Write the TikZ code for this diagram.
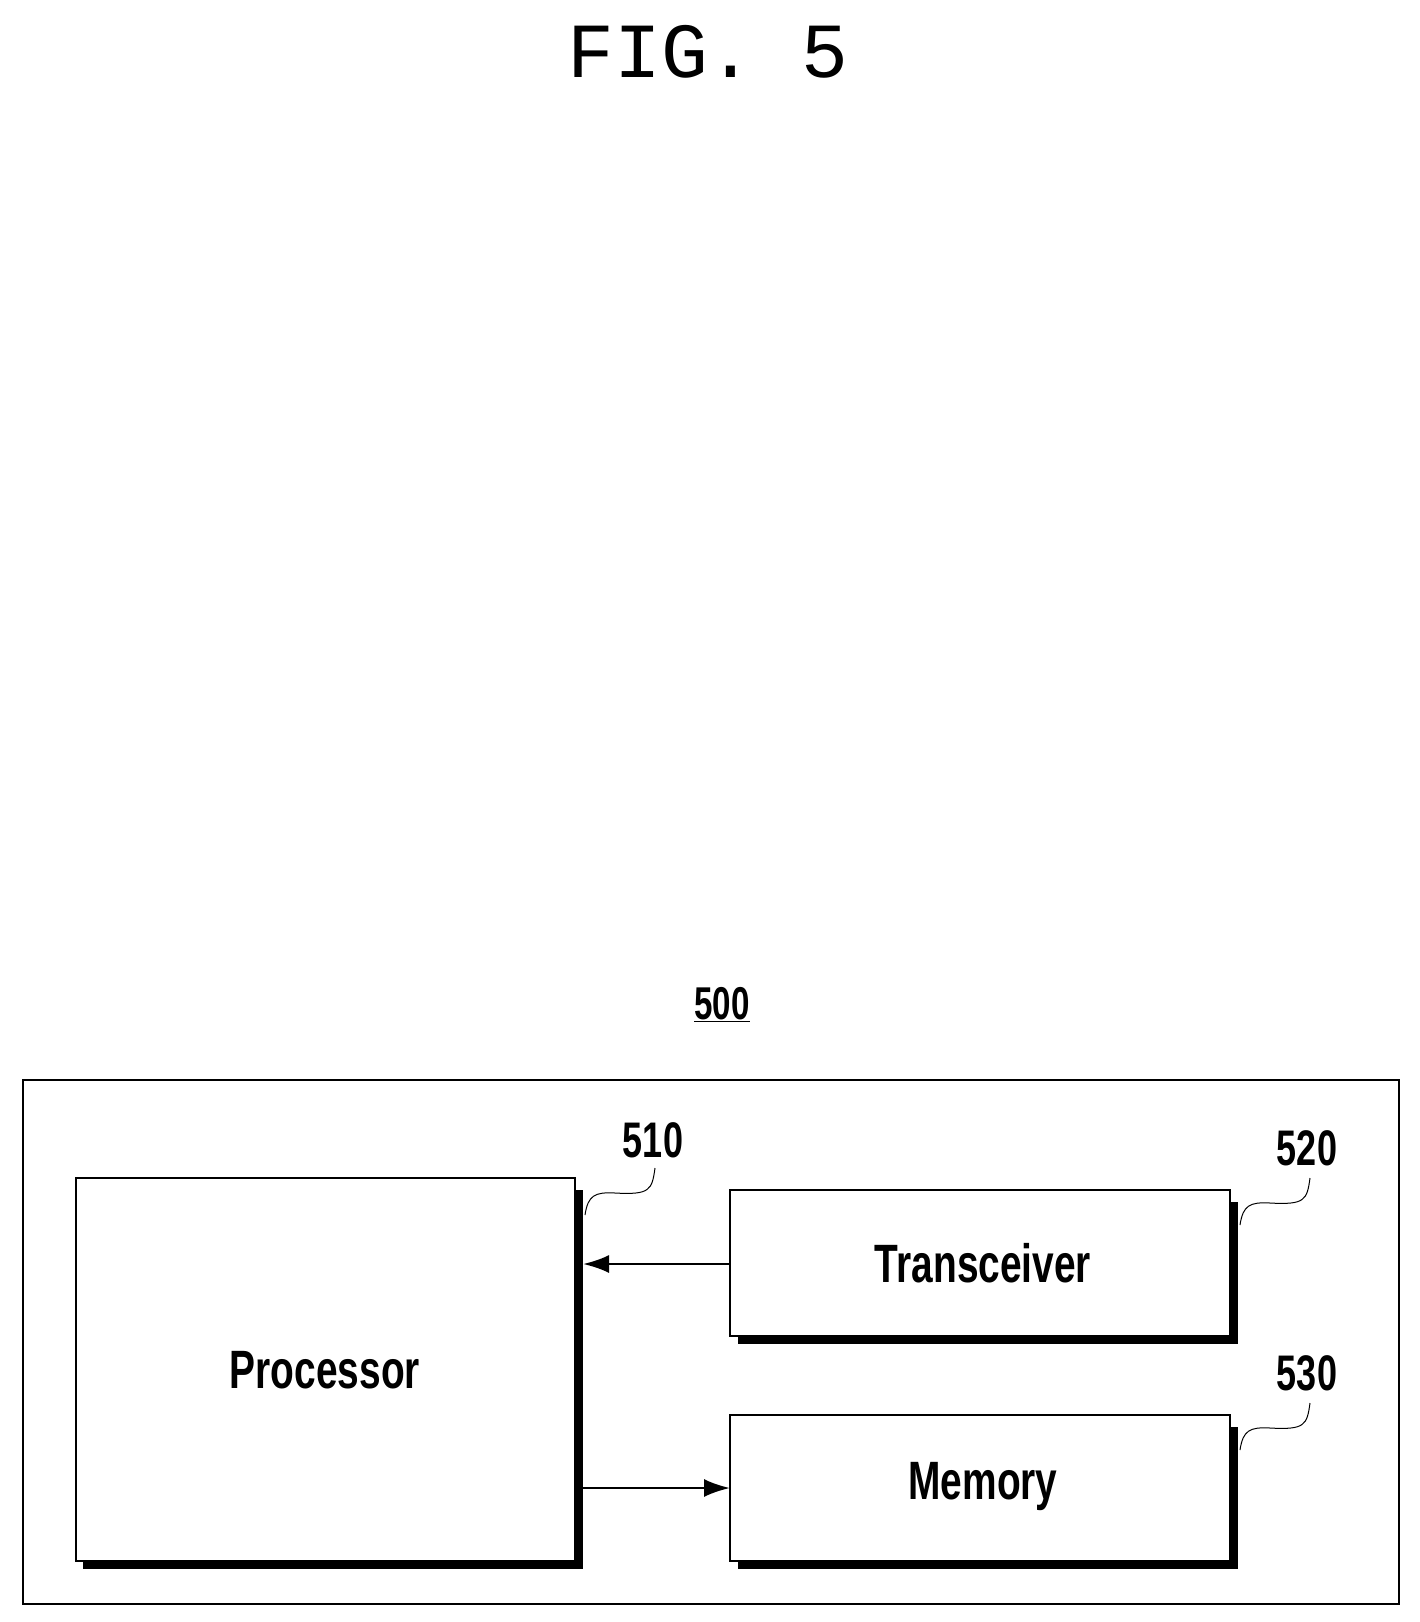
\documentclass[tikz,border=0pt]{standalone}
\usepackage{fontspec}
\setmainfont{Liberation Sans}
\newfontfamily\monof{Liberation Mono}
\usetikzlibrary{arrows.meta}
\begin{document}
\begin{tikzpicture}[x=1pt,y=-1pt,
  lbl/.style={font=\fontsize{54}{60}\selectfont\bfseries,xscale=0.72},
  arr/.style={line width=2.5pt,-{Latex[length=26pt,width=18pt]}},
  lead/.style={line width=1pt}]
\useasboundingbox (0,0) rectangle (1419,1622);
\node[font=\monof\fontsize{78}{80}\selectfont] (title) at (708,52) {FIG. 5};
\node[lbl,font=\fontsize{46}{50}\selectfont\bfseries] (n500) at (722,1005) {\underline{500}};
\draw[line width=2.5pt] (23,1080) rectangle (1399,1604);
% shadows
\fill (83,1190) rectangle (583,1569);
\fill (738,1202) rectangle (1238,1344);
\fill (738,1427) rectangle (1238,1569);
\draw[fill=white,line width=2pt] (76,1178) rectangle (575,1561);
\draw[fill=white,line width=2pt] (730,1190) rectangle (1230,1336);
\draw[fill=white,line width=2pt] (730,1415) rectangle (1230,1561);
\coordinate (pr) at (583,1264);
\coordinate (pr2) at (583,1488);
\coordinate (tl) at (730,1264);
\coordinate (ml) at (730,1488);
\node[lbl] (proc) at (325,1370) {Processor};
\node[lbl] (trans) at (983,1263) {Transceiver};
\node[lbl] (mem) at (983,1487) {Memory};
\draw[arr] (tl) -- (pr);
\draw[arr] (pr2) -- (ml);
\node[lbl,font=\fontsize{50}{54}\selectfont\bfseries] (l510) at (653,1140) {510};
\node[lbl,font=\fontsize{50}{54}\selectfont\bfseries] (l520) at (1307,1148) {520};
\node[lbl,font=\fontsize{50}{54}\selectfont\bfseries] (l530) at (1307,1373) {530};
\draw[lead] (585,1215) .. controls (588,1195) and (595,1192) .. (615,1193) .. controls (650,1195) and (652,1190) .. (655,1168);
\draw[lead] (1240,1225) .. controls (1243,1205) and (1250,1202) .. (1270,1203) .. controls (1305,1205) and (1307,1200) .. (1310,1178);
\draw[lead] (1240,1450) .. controls (1243,1430) and (1250,1427) .. (1270,1428) .. controls (1305,1430) and (1307,1425) .. (1310,1403);
\end{tikzpicture}
\end{document}
